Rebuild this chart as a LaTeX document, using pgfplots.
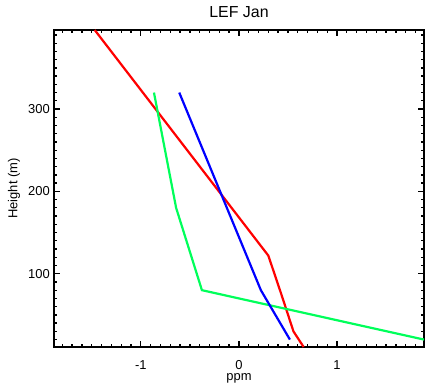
\documentclass[border=0pt]{standalone}
\usepackage{fontspec}
\setmainfont{Liberation Sans}
\usepackage{pgfplots}
\pgfplotsset{compat=1.18}
\definecolor{idlred}{RGB}{255,0,0}
\definecolor{idlgreen}{RGB}{0,255,90}
\definecolor{idlblue}{RGB}{0,0,255}
\begin{document}
\begin{tikzpicture}
\begin{axis}[
  scale only axis,
  width=370bp, height=317bp,
  xmin=-1.885, xmax=1.887,
  ymin=11, ymax=396,
  xtick={-1,0,1}, xticklabels={-1,0,1},
  ytick={100,200,300}, yticklabels={100,200,300},
  minor xtick={-1.8,-1.7,...,1.85},
  minor ytick={20,30,...,390},
  xtick pos=both, ytick pos=both,
  tick align=inside,
  major tick length=6bp, minor tick length=3bp,
  xtick style={draw=black, line width=1.3bp},
  ytick style={draw=black, line width=1.3bp},
  minor tick style={draw=black, line width=1.3bp},
  axis line style={line width=1.4bp},
  tick label style={font=\fontsize{13}{14}\selectfont},
  xticklabel style={anchor=base, inner sep=0pt, yshift=-22bp},
  yticklabel style={anchor=east, inner sep=0pt, xshift=-4bp},
  xlabel={ppm}, ylabel={Height (m)},
  label style={font=\fontsize{13}{14}\selectfont},
  xlabel style={at={(axis description cs:0.5,-0.106)}, anchor=base, inner sep=0pt},
  ylabel style={at={(axis description cs:-0.108,0.5)}, anchor=center},
  title={LEF Jan},
  title style={font=\fontsize{16}{17}\selectfont, at={(axis description cs:0.5,1)}, anchor=base, yshift=6.7bp},
  clip=true,
]
\addplot[idlred, line width=2.2bp] coordinates {
  (-1.47,396) (0.30,122) (0.43,76) (0.556,30) (0.66,11)
};
\addplot[idlgreen, line width=2.2bp] coordinates {
  (-0.866,320) (-0.64,180) (-0.377,80) (1.887,20)
};
\addplot[idlblue, line width=2.2bp] coordinates {
  (-0.608,320) (0.224,80) (0.52,20)
};
\end{axis}
\pgfresetboundingbox
\path (-54bp,-38bp) rectangle (372bp,347bp);
\end{tikzpicture}
\end{document}
